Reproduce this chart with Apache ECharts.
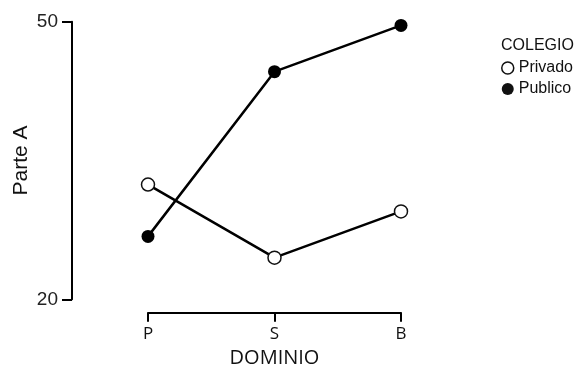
<!DOCTYPE html>
<html>
<head>
<meta charset="utf-8">
<script src="https://cdn.jsdelivr.net/npm/echarts@6/dist/echarts.min.js"></script>
<style>
  html, body { margin: 0; padding: 0; background: #fff; }
  #chart { width: 581px; height: 367px; }
</style>
</head>
<body>
<div id="chart"></div>
<script>
const categories = ['P', 'S', 'B'];
const privado = [32.4, 24.5, 29.5];
const publico = [26.8, 44.6, 49.6];
const yTicks = [20, 50];

const chart = echarts.init(document.getElementById('chart'));

const font = 'Liberation Sans, Arial, sans-serif';
const font2 = 'Open Sans, Noto Sans, sans-serif';

chart.setOption({
  animation: false,
  grid: { left: 148, right: 180, top: 21.7, bottom: 67.7, outerBoundsMode: 'none', containLabel: false },
  legend: {
    orient: 'vertical',
    left: 496,
    top: 55,
    itemGap: 5,
    itemWidth: 12,
    itemHeight: 12,
    textStyle: { fontFamily: font, fontSize: 16, color: '#111' },
    data: [
      { name: 'Privado', icon: 'circle', itemStyle: { color: '#fff', borderColor: '#111', borderWidth: 1.5 } },
      { name: 'Publico', icon: 'circle', itemStyle: { color: '#111', borderWidth: 0 } }
    ]
  },
  graphic: [{
    type: 'text',
    left: 501,
    top: 38,
    style: { text: 'COLEGIO', fontFamily: font, fontSize: 16, fill: '#111' }
  }],
  xAxis: {
    type: 'category',
    data: categories,
    boundaryGap: false,
    offset: 13.5,
    name: 'DOMINIO',
    nameLocation: 'middle',
    nameGap: 35,
    nameTextStyle: { fontFamily: font2, fontSize: 20, color: '#111' },
    axisLine: { lineStyle: { color: '#000', width: 2 } },
    axisTick: { show: true, length: 9, alignWithLabel: true, lineStyle: { color: '#000', width: 2 } },
    axisLabel: { fontFamily: font2, fontSize: 17, color: '#111', margin: 13 },
    splitLine: { show: false }
  },
  yAxis: {
    type: 'value',
    min: 20,
    max: 50,
    offset: 76,
    name: 'Parte A',
    nameLocation: 'middle',
    nameGap: 40,
    nameRotate: 90,
    nameTextStyle: { fontFamily: font, fontSize: 21, color: '#111' },
    axisLine: { show: true, lineStyle: { color: '#000', width: 2 } },
    axisTick: { show: true, length: 10, customValues: yTicks, lineStyle: { color: '#000', width: 2 } },
    axisLabel: { fontFamily: font, fontSize: 19, color: '#222', margin: 14, customValues: yTicks },
    splitLine: { show: false }
  },
  series: [
    {
      name: 'Privado',
      type: 'line',
      data: privado,
      symbol: 'circle',
      symbolSize: 13,
      lineStyle: { color: '#000', width: 2.5 },
      itemStyle: { color: '#fff', borderColor: '#111', borderWidth: 1.5 },
      z: 3
    },
    {
      name: 'Publico',
      type: 'line',
      data: publico,
      symbol: 'circle',
      symbolSize: 13,
      lineStyle: { color: '#000', width: 2.5 },
      itemStyle: { color: '#000', borderWidth: 0 },
      z: 2
    }
  ]
});
</script>
</body>
</html>
